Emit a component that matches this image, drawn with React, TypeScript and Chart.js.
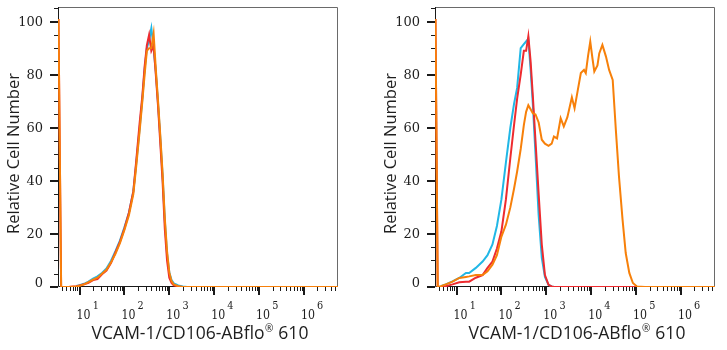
import React, { useEffect, useRef } from 'react';
import { Chart, registerables } from 'chart.js';

Chart.register(...registerables);

// ---------- axis definitions ----------
const X_MIN = 3.31; // ~10^0.52
const X_MAX = 5750000; // ~10^6.76
const Y_MIN = 0;
const Y_MAX = 105.5;

const Y_TICK_LABELS = [0, 20, 40, 60, 80, 100];
const Y_MINOR_TICKS = [0, 5, 10, 15, 20, 25, 30, 35, 40, 45, 50, 55, 60, 65, 70, 75, 80, 85, 90, 95, 100, 105];
const X_DECADES = [10, 100, 1000, 10000, 100000, 1000000];
const X_EXPONENTS = ['1', '2', '3', '4', '5', '6'];
const X_MINOR_MULTIPLIERS = [2, 3, 4, 5, 6, 7, 8, 9];

const X_TITLE_MAIN = 'VCAM-1/CD106-ABflo';
const X_TITLE_MARK = '®';
const X_TITLE_END = ' 610';
const Y_TITLE = 'Relative Cell Number';

const COLOR_ORANGE = '#f7800a';
const COLOR_RED = '#ee2b2f';
const COLOR_CYAN = '#21b7e6';

// ---------- left panel data ----------
const LEFT_X = [3.39, 3.89, 5.62, 8.51, 10, 12.6, 15.8, 20, 25.1, 31.6, 39.8, 50.1, 63.1, 79.4, 100, 126, 158, 182, 219, 251, 282, 316, 355, 398, 447, 501, 562, 631, 708, 794, 891, 1000, 1122, 1259, 1585, 1995, 2512, 10000, 100000, 1000000, 5750000];
const LEFT_ORANGE = [101, 0, 0, 0.2, 0.5, 1.0, 1.8, 2.8, 3.5, 5.0, 6.5, 9.2, 12.5, 16.5, 21.5, 27, 35, 45, 59, 70, 80, 89, 90, 90, 95.5, 82, 70, 57, 43, 26, 13.5, 5.5, 2.2, 1.0, 0.3, 0, 0, 0, 0, 0, 0];
const LEFT_RED = [101, 0, 0, 0.3, 0.6, 1.0, 1.6, 2.6, 3.0, 4.8, 6.2, 9.0, 13, 17, 22, 28, 36, 47, 62, 72, 83, 91, 95, 89, 91, 80, 68, 54, 40, 22, 10, 3.5, 1.5, 0.6, 0.2, 0, 0, 0, 0, 0, 0];
const LEFT_CYAN = [null, null, null, 0.4, 0.7, 1.2, 2.0, 3.2, 4.0, 5.3, 7.0, 9.8, 13.5, 17.5, 22.5, 28, 36, 46, 60, 71, 82, 90, 93, 97.5, 90, 81, 69, 56, 42, 25, 12.5, 5.5, 2.6, 1.4, 0.6, 0.2, 0, 0, 0, 0, 0];

// ---------- right panel data ----------
const RIGHT_X = [3.39, 3.80, 4.47, 5.75, 8.13, 11.5, 16.2, 19.1, 26.9, 38.0, 49.0, 63.1, 79.4, 100, 126, 158, 191, 224, 269, 316, 355, 398, 447, 501, 575, 676, 794, 933, 1122, 1318, 1479, 1738, 2089, 2455, 2951, 3715, 4266, 5012, 5888, 6918, 7586, 8511, 9550, 10715, 11749, 13804, 15136, 17783, 21380, 25119, 30200, 35481, 41687, 50119, 58884, 70795, 85114, 104713, 158489, 1000000, 5750000];
const RIGHT_ORANGE = [101, 0, 0.3, 1.0, 2.0, 3.4, 3.8, 4.0, 4.5, 4.5, 5.9, 8.4, 12, 19, 23.5, 30, 37, 43.5, 52, 61, 66, 68.5, 67, 65.5, 65, 62, 55.5, 54, 53.2, 54, 56.7, 56, 63.6, 60.5, 64, 71.5, 67.4, 74, 80.6, 81.8, 80.6, 87, 92.5, 86, 81.2, 83.5, 88, 91.2, 86.8, 81.8, 78, 59.2, 41.6, 25.3, 12.8, 5.3, 1.5, 0.2, 0, 0, 0];
const RIGHT_RED = [101, 0, 0.1, 0.3, 1.0, 1.8, 2.0, 2.0, 3.5, 4.5, 7.2, 9.6, 14.5, 21, 33, 48.6, 61, 71, 80, 89, 89, 94.5, 85, 72, 55, 35, 16, 4.5, 0.8, 0.2, 0, 0, 0, 0, 0, 0, 0, 0, 0, 0, 0, 0, 0, 0, 0, 0, 0, 0, 0, 0, 0, 0, 0, 0, 0, 0, 0, 0, 0, 0, 0];
const RIGHT_CYAN = [null, null, 0.3, 1.0, 2.1, 3.4, 5.3, 5.3, 7.2, 9.6, 12, 16, 23, 33, 47, 60, 69, 75, 90, 91.5, 92.5, 93.5, 82, 69, 50, 27, 11, 3.8, 0.8, 0.2, 0, 0, 0, 0, 0, 0, 0, 0, 0, 0, 0, 0, 0, 0, 0, 0, 0, 0, 0, 0, 0, 0, 0, 0, 0, 0, 0, 0, 0, 0, 0];

type Series = { color: string; values: (number | null)[] };

const axesPlugin = {
  id: 'facsAxes',
  beforeDatasetsDraw(chart: any) {
    const { ctx, chartArea: a } = chart;
    const xs = chart.scales.x;
    const ys = chart.scales.y;
    ctx.save();
    // frame
    ctx.lineWidth = 1;
    ctx.strokeStyle = '#6a6a6a';
    ctx.beginPath();
    ctx.moveTo(a.left, a.top + 0.5);
    ctx.lineTo(a.right - 0.5, a.top + 0.5);
    ctx.lineTo(a.right - 0.5, a.bottom);
    ctx.stroke();
    ctx.strokeStyle = '#1a1a1a';
    ctx.beginPath();
    ctx.moveTo(a.left + 0.5, a.top);
    ctx.lineTo(a.left + 0.5, a.bottom - 0.5);
    ctx.lineTo(a.right, a.bottom - 0.5);
    ctx.stroke();

    // y ticks
    Y_MINOR_TICKS.forEach((v) => {
      const major = v % 20 === 0;
      const py = Math.round(ys.getPixelForValue(v));
      ctx.lineWidth = major ? 2 : 1;
      const yy = major ? py : py + 0.5;
      ctx.beginPath();
      ctx.moveTo(a.left - (major ? 8 : 4), yy);
      ctx.lineTo(a.left, yy);
      ctx.stroke();
    });

    // x ticks
    X_DECADES.forEach((d) => {
      const px = Math.round(xs.getPixelForValue(d));
      ctx.lineWidth = 2;
      ctx.beginPath();
      ctx.moveTo(px, a.bottom);
      ctx.lineTo(px, a.bottom + 8);
      ctx.stroke();
    });
    [1, 10, 100, 1000, 10000, 100000, 1000000].forEach((d) => {
      X_MINOR_MULTIPLIERS.forEach((m) => {
        const v = d * m;
        if (v <= X_MIN || v >= X_MAX) return;
        const px = Math.round(xs.getPixelForValue(v)) + 0.5;
        ctx.lineWidth = 1;
        ctx.beginPath();
        ctx.moveTo(px, a.bottom);
        ctx.lineTo(px, a.bottom + 4);
        ctx.stroke();
      });
    });
    ctx.restore();
  },
  afterDraw(chart: any) {
    const { ctx, chartArea: a } = chart;
    const xs = chart.scales.x;
    const ys = chart.scales.y;
    ctx.save();
    ctx.fillStyle = '#1e1e1e';

    // y tick labels
    ctx.font = '12px "DejaVu Serif"';
    ctx.textAlign = 'right';
    ctx.textBaseline = 'middle';
    Y_TICK_LABELS.forEach((v) => {
      const py = ys.getPixelForValue(v) + (v === 0 ? -3 : 1);
      ctx.save();
      ctx.translate(a.left - 15, py);
      ctx.scale(1.08, 1);
      ctx.fillText(String(v), 0, 0);
      ctx.restore();
    });

    // x tick labels 10^n
    ctx.textAlign = 'left';
    ctx.textBaseline = 'alphabetic';
    X_DECADES.forEach((d, i) => {
      const px = xs.getPixelForValue(d);
      ctx.save();
      ctx.translate(px - 3, a.bottom + 31.5);
      ctx.scale(0.88, 1);
      ctx.font = '12.5px "DejaVu Serif"';
      ctx.fillText('10', 0, 0);
      const w = ctx.measureText('10').width;
      ctx.font = '11px "DejaVu Serif"';
      ctx.fillText(X_EXPONENTS[i], w + 2.5, -10);
      ctx.restore();
    });

    // x title
    const mainFont = '17.5px "Open Sans"';
    const markFont = '10px "Open Sans"';
    ctx.font = mainFont;
    const w1 = ctx.measureText(X_TITLE_MAIN).width;
    const w3 = ctx.measureText(X_TITLE_END).width;
    ctx.font = markFont;
    const w2 = ctx.measureText(X_TITLE_MARK).width;
    const total = w1 + w2 + 1 + w3;
    let sx = (a.left + a.right) / 2 + 2 - total / 2;
    const base = a.bottom + 51.5;
    ctx.font = mainFont;
    ctx.fillText(X_TITLE_MAIN, sx, base);
    sx += w1 + 0.5;
    ctx.font = markFont;
    ctx.fillText(X_TITLE_MARK, sx, base - 6.5);
    sx += w2 + 0.5;
    ctx.font = mainFont;
    ctx.fillText(X_TITLE_END, sx, base);

    // y title
    ctx.save();
    ctx.translate(a.left - 44, a.top + 146.5);
    ctx.rotate(-Math.PI / 2);
    ctx.textAlign = 'center';
    ctx.textBaseline = 'middle';
    ctx.font = '16.5px "Open Sans"';
    ctx.fillText(Y_TITLE, 0, 0);
    ctx.restore();

    ctx.restore();
  },
};

function Panel(props: { left: number; width: number; padRight: number; xs: number[]; series: Series[] }) {
  const ref = useRef<HTMLCanvasElement>(null);
  useEffect(() => {
    if (!ref.current) return;
    const chart = new Chart(ref.current, {
      type: 'line',
      data: {
        datasets: props.series.map((s) => ({
          data: props.xs.map((x, i) => ({ x, y: s.values[i] })) as any,
          borderColor: s.color,
          backgroundColor: s.color,
          borderWidth: 2,
          pointRadius: 0,
          fill: false,
          tension: 0,
          spanGaps: false,
        })),
      },
      options: {
        responsive: false,
        maintainAspectRatio: false,
        animation: false,
        layout: { padding: { top: 7, right: props.padRight, left: 0, bottom: 0 } },
        plugins: { legend: { display: false }, tooltip: { enabled: false } },
        scales: {
          x: {
            type: 'logarithmic',
            min: X_MIN,
            max: X_MAX,
            ticks: { display: false },
            grid: { display: false },
            border: { display: false },
            afterFit: (s: any) => {
              s.height = 63;
            },
          },
          y: {
            type: 'linear',
            min: Y_MIN,
            max: Y_MAX,
            ticks: { display: false },
            grid: { display: false },
            border: { display: false },
            afterFit: (s: any) => {
              s.width = 58;
            },
          },
        },
      } as any,
      plugins: [axesPlugin],
    });
    return () => chart.destroy();
  }, []);
  return (
    <canvas
      ref={ref}
      width={props.width}
      height={350}
      style={{ position: 'absolute', left: props.left, top: 0, width: props.width, height: 350 }}
    />
  );
}

export default function App() {
  const leftSeries: Series[] = [
    { color: COLOR_ORANGE, values: LEFT_ORANGE },
    { color: COLOR_RED, values: LEFT_RED },
    { color: COLOR_CYAN, values: LEFT_CYAN },
  ];
  const rightSeries: Series[] = [
    { color: COLOR_ORANGE, values: RIGHT_ORANGE },
    { color: COLOR_RED, values: RIGHT_RED },
    { color: COLOR_CYAN, values: RIGHT_CYAN },
  ];
  return (
    <div style={{ position: 'fixed', left: 0, top: 0, width: 727, height: 350, background: '#fff', overflow: 'hidden' }}>
      <Panel left={0} width={363} padRight={25} xs={LEFT_X} series={leftSeries} />
      <Panel left={377} width={350} padRight={12} xs={RIGHT_X} series={rightSeries} />
    </div>
  );
}
